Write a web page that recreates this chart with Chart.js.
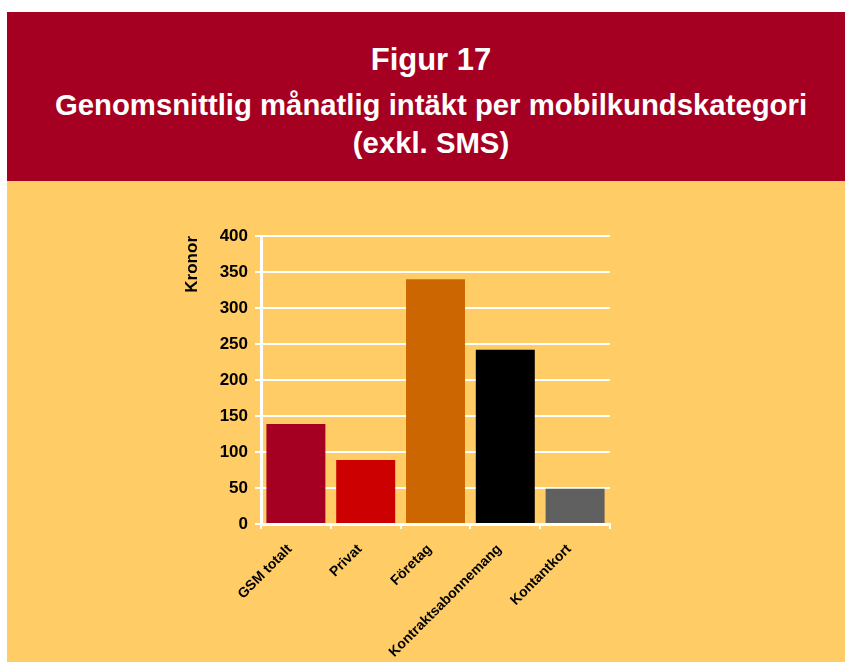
<!DOCTYPE html>
<html>
<head>
<meta charset="utf-8">
<script src="https://cdn.jsdelivr.net/npm/chart.js@4"></script>
<style>
  html, body { margin: 0; padding: 0; background: #fff; width: 845px; height: 662px; overflow: hidden; }
  #header { position: absolute; left: 7px; top: 12px; width: 838px; height: 169px; background: #A50021; }
  #body { position: absolute; left: 7px; top: 181px; width: 838px; height: 481px; background: #FFCC66; }
  .t { position: absolute; left: 0; width: 862px; text-align: center; color: #fff;
       font-family: Arial, "Liberation Sans", sans-serif; font-weight: bold; }
  #fig { top: 42px; font-size: 31px; line-height: 36px; }
  #sub { top: 86px; font-size: 29.3px; line-height: 38px; }
  canvas { display: block; }
</style>
</head>
<body>
<div id="header"></div>
<div class="t" id="fig">Figur 17</div>
<div class="t" id="sub">Genomsnittlig månatlig intäkt per mobilkundskategori<br>(exkl. SMS)</div>
<div id="body"><canvas id="c" width="838" height="481"></canvas></div>
<script>
// Data läst ur figuren
const categories = ['GSM totalt', 'Privat', 'Företag', 'Kontraktsabonnemang', 'Kontantkort'];
const revenue = [139, 89, 340, 242, 49];
const barColors = ['#A50021', '#CC0000', '#CC6600', '#000000', '#606060'];
const yTicks = [0, 50, 100, 150, 200, 250, 300, 350, 400];

const font = { family: "Arial, 'Liberation Sans', sans-serif", weight: 'bold' };

new Chart(document.getElementById('c'), {
  type: 'bar',
  data: {
    labels: categories,
    datasets: [{ data: revenue, backgroundColor: barColors, barPercentage: 0.845, categoryPercentage: 1 }],
  },
  options: {
    responsive: false,
    animation: false,
    layout: { padding: { left: 150, right: 235, top: 55, bottom: 0 } },
    plugins: { legend: { display: false }, tooltip: { enabled: false } },
    scales: {
      x: {
        afterFit: (s) => { s.height = 138; },
        grid: { display: true, drawOnChartArea: false, color: '#fff', lineWidth: 2, tickLength: 5, offset: true },
        border: { color: '#fff', width: 3 },
        ticks: { color: '#000', font: { ...font, size: 14 }, maxRotation: 45, minRotation: 45, padding: 12, labelOffset: -6, autoSkip: false },
      },
      y: {
        min: 0, max: 400,
        afterFit: (s) => { s.width = 104; },
        afterBuildTicks: (s) => { s.ticks = yTicks.map((v) => ({ value: v })); },
        grid: { color: '#fff', lineWidth: 2, tickLength: 6 },
        border: { color: '#fff', width: 3 },
        ticks: { color: '#000', font: { ...font, size: 17 }, padding: 7 },
        title: { display: true, text: 'Kronor', align: 'end', color: '#000', font: { ...font, size: 17 }, padding: { top: 25, bottom: 0 } },
      },
    },
  },
});
</script>
</body>
</html>
